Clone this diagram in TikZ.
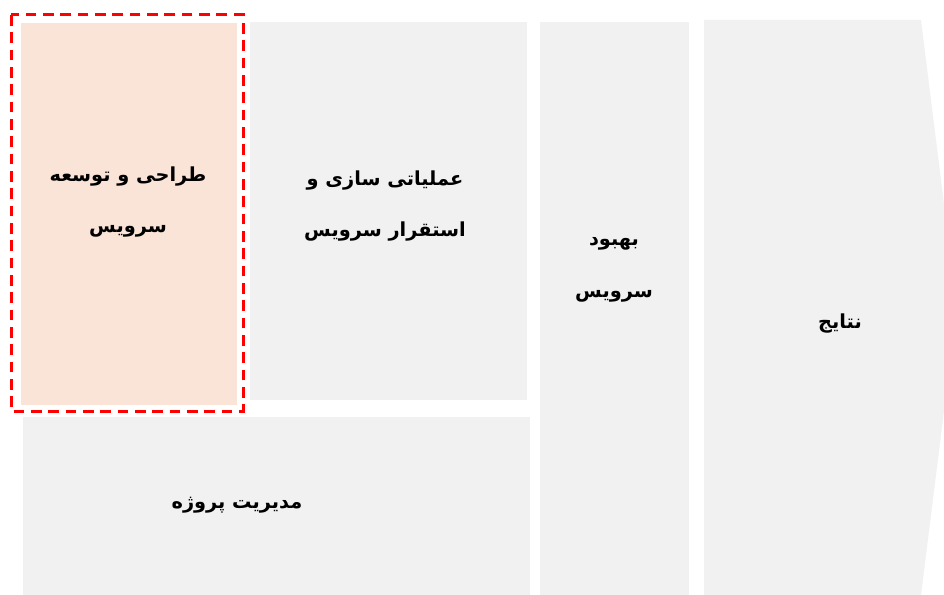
\documentclass[tikz,border=0pt]{standalone}
\usepackage{fontspec}
\newfontfamily\arabicfont[Script=Arabic]{DejaVu Sans}
\TeXXeTstate=1
\definecolor{boxgrey}{HTML}{F1F1F1}
\definecolor{boxorange}{HTML}{FAE4D7}
\definecolor{dashred}{HTML}{FF0000}
\tikzset{
  phase/.style={font=\arabicfont\bfseries\fontsize{16.5}{44}\selectfont, align=center, text=black}
}

\begin{document}
\begin{tikzpicture}[x=0.3mm,y=-0.3mm]
		%%%%% START %%%%%
		\useasboundingbox (0, 0) rectangle (944, 595);
		\clip (0, 0) rectangle (944, 595);
		
		\fill[boxorange] (21, 23) rectangle (237, 405);
		\fill[boxgrey] (250, 22) rectangle (527, 400);
		\fill[boxgrey] (23, 417) rectangle (530, 595);
		\fill[boxgrey] (540, 22) rectangle (689, 595);
		\fill[boxgrey] (704, 20) -- (921, 20) -- (957, 307) -- (921, 595) -- (704, 595) -- cycle;
		
		\draw[dashred, line width=0.9mm, dash pattern=on 3.2mm off 2mm] (11, 15) rectangle (243, 411);
		
		\node[phase] (design) at (128, 202) {\beginR طراحی و توسعه\endR\\ \beginR سرویس\endR};
		\node[phase] (deploy) at (385, 206) {\beginR عملیاتی سازی و\endR\\ \beginR استقرار سرویس\endR};
		\node[phase] (improve) at (614, 270) {\beginR بهبود\endR\\ \beginR سرویس\endR};
		\node[phase] (manage) at (237, 505) {\beginR مدیریت پروژه\endR};
		\node[phase] (results) at (840, 324) {\beginR نتایج\endR};
		
		%%%%% END %%%%%
\end{tikzpicture}
\end{document}
